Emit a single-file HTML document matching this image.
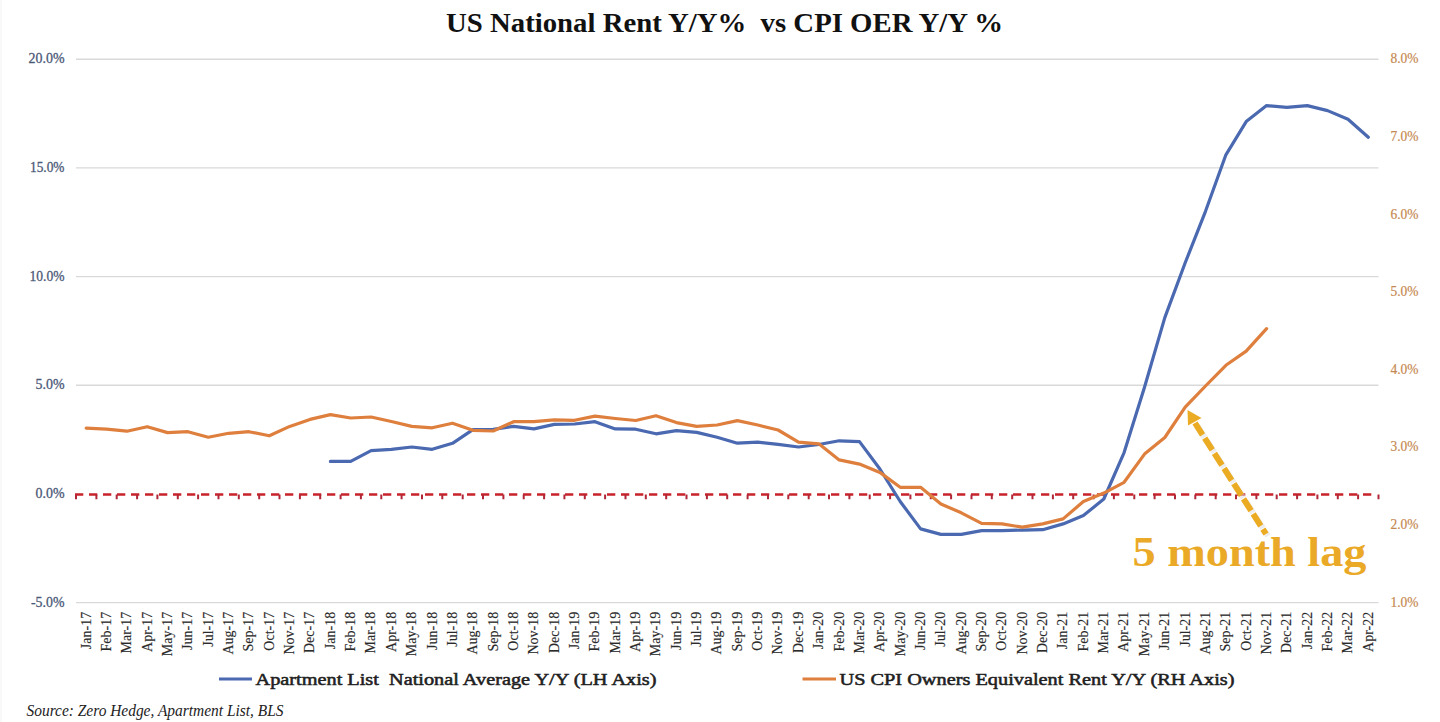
<!DOCTYPE html><html><head><meta charset="utf-8"><style>html,body{margin:0;padding:0;background:#fff;width:1440px;height:722px;overflow:hidden}svg{display:block}text{font-family:"Liberation Serif",serif}</style></head><body>
<svg width="1440" height="722" viewBox="0 0 1440 722">
<rect width="1440" height="722" fill="#fff"/>
<line x1="1" y1="0" x2="1" y2="722" stroke="#f3f3f3" stroke-width="1"/>
<text x="446" y="32.3" font-size="27.5" font-weight="bold" fill="#111" textLength="557" lengthAdjust="spacingAndGlyphs" style="white-space:pre" xml:space="preserve">US National Rent Y/Y%  vs CPI OER Y/Y %</text>
<line x1="76.0" y1="59.2" x2="1378.5" y2="59.2" stroke="#d9d9d9" stroke-width="1.4"/>
<line x1="76.0" y1="167.9" x2="1378.5" y2="167.9" stroke="#d9d9d9" stroke-width="1.4"/>
<line x1="76.0" y1="276.6" x2="1378.5" y2="276.6" stroke="#d9d9d9" stroke-width="1.4"/>
<line x1="76.0" y1="385.2" x2="1378.5" y2="385.2" stroke="#d9d9d9" stroke-width="1.4"/>
<line x1="76.0" y1="602.6" x2="1378.5" y2="602.6" stroke="#d9d9d9" stroke-width="1.4"/>
<text x="64.5" y="63.4" font-size="14.5" fill="#4a5877" stroke="#4a5877" stroke-width="0.3" text-anchor="end" textLength="36" lengthAdjust="spacingAndGlyphs">20.0%</text>
<text x="64.5" y="172.1" font-size="14.5" fill="#4a5877" stroke="#4a5877" stroke-width="0.3" text-anchor="end" textLength="34.5" lengthAdjust="spacingAndGlyphs">15.0%</text>
<text x="64.5" y="280.8" font-size="14.5" fill="#4a5877" stroke="#4a5877" stroke-width="0.3" text-anchor="end" textLength="35" lengthAdjust="spacingAndGlyphs">10.0%</text>
<text x="64.5" y="389.4" font-size="14.5" fill="#4a5877" stroke="#4a5877" stroke-width="0.3" text-anchor="end" textLength="29" lengthAdjust="spacingAndGlyphs">5.0%</text>
<text x="64.5" y="498.1" font-size="14.5" fill="#4a5877" stroke="#4a5877" stroke-width="0.3" text-anchor="end" textLength="29" lengthAdjust="spacingAndGlyphs">0.0%</text>
<text x="64.5" y="606.8" font-size="14.5" fill="#4a5877" stroke="#4a5877" stroke-width="0.3" text-anchor="end" textLength="33.5" lengthAdjust="spacingAndGlyphs">-5.0%</text>
<text x="1390.5" y="606.6" font-size="14.5" fill="#c58850" stroke="#c58850" stroke-width="0.2" textLength="28" lengthAdjust="spacingAndGlyphs">1.0%</text>
<text x="1390.5" y="529.0" font-size="14.5" fill="#c58850" stroke="#c58850" stroke-width="0.2" textLength="28" lengthAdjust="spacingAndGlyphs">2.0%</text>
<text x="1390.5" y="451.3" font-size="14.5" fill="#c58850" stroke="#c58850" stroke-width="0.2" textLength="28" lengthAdjust="spacingAndGlyphs">3.0%</text>
<text x="1390.5" y="373.7" font-size="14.5" fill="#c58850" stroke="#c58850" stroke-width="0.2" textLength="28" lengthAdjust="spacingAndGlyphs">4.0%</text>
<text x="1390.5" y="296.1" font-size="14.5" fill="#c58850" stroke="#c58850" stroke-width="0.2" textLength="28" lengthAdjust="spacingAndGlyphs">5.0%</text>
<text x="1390.5" y="218.5" font-size="14.5" fill="#c58850" stroke="#c58850" stroke-width="0.2" textLength="28" lengthAdjust="spacingAndGlyphs">6.0%</text>
<text x="1390.5" y="140.8" font-size="14.5" fill="#c58850" stroke="#c58850" stroke-width="0.2" textLength="28" lengthAdjust="spacingAndGlyphs">7.0%</text>
<text x="1390.5" y="63.2" font-size="14.5" fill="#c58850" stroke="#c58850" stroke-width="0.2" textLength="28" lengthAdjust="spacingAndGlyphs">8.0%</text>
<line x1="75" y1="494.5" x2="1374" y2="494.5" stroke="#c8222b" stroke-width="2.6" stroke-dasharray="8.3 5.7"/>
<path d="M76.0 494.5V499.2M96.4 494.5V499.2M116.7 494.5V499.2M137.1 494.5V499.2M157.4 494.5V499.2M177.8 494.5V499.2M198.1 494.5V499.2M218.5 494.5V499.2M238.8 494.5V499.2M259.2 494.5V499.2M279.5 494.5V499.2M299.9 494.5V499.2M320.2 494.5V499.2M340.6 494.5V499.2M360.9 494.5V499.2M381.3 494.5V499.2M401.6 494.5V499.2M422.0 494.5V499.2M442.3 494.5V499.2M462.7 494.5V499.2M483.0 494.5V499.2M503.4 494.5V499.2M523.7 494.5V499.2M544.1 494.5V499.2M564.4 494.5V499.2M584.8 494.5V499.2M605.1 494.5V499.2M625.5 494.5V499.2M645.8 494.5V499.2M666.2 494.5V499.2M686.5 494.5V499.2M706.9 494.5V499.2M727.2 494.5V499.2M747.6 494.5V499.2M768.0 494.5V499.2M788.3 494.5V499.2M808.7 494.5V499.2M829.0 494.5V499.2M849.4 494.5V499.2M869.7 494.5V499.2M890.1 494.5V499.2M910.4 494.5V499.2M930.8 494.5V499.2M951.1 494.5V499.2M971.5 494.5V499.2M991.8 494.5V499.2M1012.2 494.5V499.2M1032.5 494.5V499.2M1052.9 494.5V499.2M1073.2 494.5V499.2M1093.6 494.5V499.2M1113.9 494.5V499.2M1134.3 494.5V499.2M1154.6 494.5V499.2M1175.0 494.5V499.2M1195.3 494.5V499.2M1215.7 494.5V499.2M1236.0 494.5V499.2M1256.4 494.5V499.2M1276.7 494.5V499.2M1297.1 494.5V499.2M1317.4 494.5V499.2M1337.8 494.5V499.2M1358.1 494.5V499.2M1378.5 494.5V499.2" stroke="#b02838" stroke-width="2"/>
<text transform="translate(90.5,611.8) rotate(-90)" font-size="14" fill="#2a2a2a" stroke="#2a2a2a" stroke-width="0.15" text-anchor="end">Jan-17</text>
<text transform="translate(110.8,611.8) rotate(-90)" font-size="14" fill="#2a2a2a" stroke="#2a2a2a" stroke-width="0.15" text-anchor="end">Feb-17</text>
<text transform="translate(131.2,611.8) rotate(-90)" font-size="14" fill="#2a2a2a" stroke="#2a2a2a" stroke-width="0.15" text-anchor="end">Mar-17</text>
<text transform="translate(151.5,611.8) rotate(-90)" font-size="14" fill="#2a2a2a" stroke="#2a2a2a" stroke-width="0.15" text-anchor="end">Apr-17</text>
<text transform="translate(171.9,611.8) rotate(-90)" font-size="14" fill="#2a2a2a" stroke="#2a2a2a" stroke-width="0.15" text-anchor="end">May-17</text>
<text transform="translate(192.2,611.8) rotate(-90)" font-size="14" fill="#2a2a2a" stroke="#2a2a2a" stroke-width="0.15" text-anchor="end">Jun-17</text>
<text transform="translate(212.6,611.8) rotate(-90)" font-size="14" fill="#2a2a2a" stroke="#2a2a2a" stroke-width="0.15" text-anchor="end">Jul-17</text>
<text transform="translate(232.9,611.8) rotate(-90)" font-size="14" fill="#2a2a2a" stroke="#2a2a2a" stroke-width="0.15" text-anchor="end">Aug-17</text>
<text transform="translate(253.3,611.8) rotate(-90)" font-size="14" fill="#2a2a2a" stroke="#2a2a2a" stroke-width="0.15" text-anchor="end">Sep-17</text>
<text transform="translate(273.6,611.8) rotate(-90)" font-size="14" fill="#2a2a2a" stroke="#2a2a2a" stroke-width="0.15" text-anchor="end">Oct-17</text>
<text transform="translate(294.0,611.8) rotate(-90)" font-size="14" fill="#2a2a2a" stroke="#2a2a2a" stroke-width="0.15" text-anchor="end">Nov-17</text>
<text transform="translate(314.3,611.8) rotate(-90)" font-size="14" fill="#2a2a2a" stroke="#2a2a2a" stroke-width="0.15" text-anchor="end">Dec-17</text>
<text transform="translate(334.7,611.8) rotate(-90)" font-size="14" fill="#2a2a2a" stroke="#2a2a2a" stroke-width="0.15" text-anchor="end">Jan-18</text>
<text transform="translate(355.0,611.8) rotate(-90)" font-size="14" fill="#2a2a2a" stroke="#2a2a2a" stroke-width="0.15" text-anchor="end">Feb-18</text>
<text transform="translate(375.4,611.8) rotate(-90)" font-size="14" fill="#2a2a2a" stroke="#2a2a2a" stroke-width="0.15" text-anchor="end">Mar-18</text>
<text transform="translate(395.7,611.8) rotate(-90)" font-size="14" fill="#2a2a2a" stroke="#2a2a2a" stroke-width="0.15" text-anchor="end">Apr-18</text>
<text transform="translate(416.1,611.8) rotate(-90)" font-size="14" fill="#2a2a2a" stroke="#2a2a2a" stroke-width="0.15" text-anchor="end">May-18</text>
<text transform="translate(436.5,611.8) rotate(-90)" font-size="14" fill="#2a2a2a" stroke="#2a2a2a" stroke-width="0.15" text-anchor="end">Jun-18</text>
<text transform="translate(456.8,611.8) rotate(-90)" font-size="14" fill="#2a2a2a" stroke="#2a2a2a" stroke-width="0.15" text-anchor="end">Jul-18</text>
<text transform="translate(477.2,611.8) rotate(-90)" font-size="14" fill="#2a2a2a" stroke="#2a2a2a" stroke-width="0.15" text-anchor="end">Aug-18</text>
<text transform="translate(497.5,611.8) rotate(-90)" font-size="14" fill="#2a2a2a" stroke="#2a2a2a" stroke-width="0.15" text-anchor="end">Sep-18</text>
<text transform="translate(517.9,611.8) rotate(-90)" font-size="14" fill="#2a2a2a" stroke="#2a2a2a" stroke-width="0.15" text-anchor="end">Oct-18</text>
<text transform="translate(538.2,611.8) rotate(-90)" font-size="14" fill="#2a2a2a" stroke="#2a2a2a" stroke-width="0.15" text-anchor="end">Nov-18</text>
<text transform="translate(558.6,611.8) rotate(-90)" font-size="14" fill="#2a2a2a" stroke="#2a2a2a" stroke-width="0.15" text-anchor="end">Dec-18</text>
<text transform="translate(578.9,611.8) rotate(-90)" font-size="14" fill="#2a2a2a" stroke="#2a2a2a" stroke-width="0.15" text-anchor="end">Jan-19</text>
<text transform="translate(599.3,611.8) rotate(-90)" font-size="14" fill="#2a2a2a" stroke="#2a2a2a" stroke-width="0.15" text-anchor="end">Feb-19</text>
<text transform="translate(619.6,611.8) rotate(-90)" font-size="14" fill="#2a2a2a" stroke="#2a2a2a" stroke-width="0.15" text-anchor="end">Mar-19</text>
<text transform="translate(640.0,611.8) rotate(-90)" font-size="14" fill="#2a2a2a" stroke="#2a2a2a" stroke-width="0.15" text-anchor="end">Apr-19</text>
<text transform="translate(660.3,611.8) rotate(-90)" font-size="14" fill="#2a2a2a" stroke="#2a2a2a" stroke-width="0.15" text-anchor="end">May-19</text>
<text transform="translate(680.7,611.8) rotate(-90)" font-size="14" fill="#2a2a2a" stroke="#2a2a2a" stroke-width="0.15" text-anchor="end">Jun-19</text>
<text transform="translate(701.0,611.8) rotate(-90)" font-size="14" fill="#2a2a2a" stroke="#2a2a2a" stroke-width="0.15" text-anchor="end">Jul-19</text>
<text transform="translate(721.4,611.8) rotate(-90)" font-size="14" fill="#2a2a2a" stroke="#2a2a2a" stroke-width="0.15" text-anchor="end">Aug-19</text>
<text transform="translate(741.7,611.8) rotate(-90)" font-size="14" fill="#2a2a2a" stroke="#2a2a2a" stroke-width="0.15" text-anchor="end">Sep-19</text>
<text transform="translate(762.1,611.8) rotate(-90)" font-size="14" fill="#2a2a2a" stroke="#2a2a2a" stroke-width="0.15" text-anchor="end">Oct-19</text>
<text transform="translate(782.4,611.8) rotate(-90)" font-size="14" fill="#2a2a2a" stroke="#2a2a2a" stroke-width="0.15" text-anchor="end">Nov-19</text>
<text transform="translate(802.8,611.8) rotate(-90)" font-size="14" fill="#2a2a2a" stroke="#2a2a2a" stroke-width="0.15" text-anchor="end">Dec-19</text>
<text transform="translate(823.1,611.8) rotate(-90)" font-size="14" fill="#2a2a2a" stroke="#2a2a2a" stroke-width="0.15" text-anchor="end">Jan-20</text>
<text transform="translate(843.5,611.8) rotate(-90)" font-size="14" fill="#2a2a2a" stroke="#2a2a2a" stroke-width="0.15" text-anchor="end">Feb-20</text>
<text transform="translate(863.8,611.8) rotate(-90)" font-size="14" fill="#2a2a2a" stroke="#2a2a2a" stroke-width="0.15" text-anchor="end">Mar-20</text>
<text transform="translate(884.2,611.8) rotate(-90)" font-size="14" fill="#2a2a2a" stroke="#2a2a2a" stroke-width="0.15" text-anchor="end">Apr-20</text>
<text transform="translate(904.5,611.8) rotate(-90)" font-size="14" fill="#2a2a2a" stroke="#2a2a2a" stroke-width="0.15" text-anchor="end">May-20</text>
<text transform="translate(924.9,611.8) rotate(-90)" font-size="14" fill="#2a2a2a" stroke="#2a2a2a" stroke-width="0.15" text-anchor="end">Jun-20</text>
<text transform="translate(945.2,611.8) rotate(-90)" font-size="14" fill="#2a2a2a" stroke="#2a2a2a" stroke-width="0.15" text-anchor="end">Jul-20</text>
<text transform="translate(965.6,611.8) rotate(-90)" font-size="14" fill="#2a2a2a" stroke="#2a2a2a" stroke-width="0.15" text-anchor="end">Aug-20</text>
<text transform="translate(985.9,611.8) rotate(-90)" font-size="14" fill="#2a2a2a" stroke="#2a2a2a" stroke-width="0.15" text-anchor="end">Sep-20</text>
<text transform="translate(1006.3,611.8) rotate(-90)" font-size="14" fill="#2a2a2a" stroke="#2a2a2a" stroke-width="0.15" text-anchor="end">Oct-20</text>
<text transform="translate(1026.6,611.8) rotate(-90)" font-size="14" fill="#2a2a2a" stroke="#2a2a2a" stroke-width="0.15" text-anchor="end">Nov-20</text>
<text transform="translate(1047.0,611.8) rotate(-90)" font-size="14" fill="#2a2a2a" stroke="#2a2a2a" stroke-width="0.15" text-anchor="end">Dec-20</text>
<text transform="translate(1067.4,611.8) rotate(-90)" font-size="14" fill="#2a2a2a" stroke="#2a2a2a" stroke-width="0.15" text-anchor="end">Jan-21</text>
<text transform="translate(1087.7,611.8) rotate(-90)" font-size="14" fill="#2a2a2a" stroke="#2a2a2a" stroke-width="0.15" text-anchor="end">Feb-21</text>
<text transform="translate(1108.1,611.8) rotate(-90)" font-size="14" fill="#2a2a2a" stroke="#2a2a2a" stroke-width="0.15" text-anchor="end">Mar-21</text>
<text transform="translate(1128.4,611.8) rotate(-90)" font-size="14" fill="#2a2a2a" stroke="#2a2a2a" stroke-width="0.15" text-anchor="end">Apr-21</text>
<text transform="translate(1148.8,611.8) rotate(-90)" font-size="14" fill="#2a2a2a" stroke="#2a2a2a" stroke-width="0.15" text-anchor="end">May-21</text>
<text transform="translate(1169.1,611.8) rotate(-90)" font-size="14" fill="#2a2a2a" stroke="#2a2a2a" stroke-width="0.15" text-anchor="end">Jun-21</text>
<text transform="translate(1189.5,611.8) rotate(-90)" font-size="14" fill="#2a2a2a" stroke="#2a2a2a" stroke-width="0.15" text-anchor="end">Jul-21</text>
<text transform="translate(1209.8,611.8) rotate(-90)" font-size="14" fill="#2a2a2a" stroke="#2a2a2a" stroke-width="0.15" text-anchor="end">Aug-21</text>
<text transform="translate(1230.2,611.8) rotate(-90)" font-size="14" fill="#2a2a2a" stroke="#2a2a2a" stroke-width="0.15" text-anchor="end">Sep-21</text>
<text transform="translate(1250.5,611.8) rotate(-90)" font-size="14" fill="#2a2a2a" stroke="#2a2a2a" stroke-width="0.15" text-anchor="end">Oct-21</text>
<text transform="translate(1270.9,611.8) rotate(-90)" font-size="14" fill="#2a2a2a" stroke="#2a2a2a" stroke-width="0.15" text-anchor="end">Nov-21</text>
<text transform="translate(1291.2,611.8) rotate(-90)" font-size="14" fill="#2a2a2a" stroke="#2a2a2a" stroke-width="0.15" text-anchor="end">Dec-21</text>
<text transform="translate(1311.6,611.8) rotate(-90)" font-size="14" fill="#2a2a2a" stroke="#2a2a2a" stroke-width="0.15" text-anchor="end">Jan-22</text>
<text transform="translate(1331.9,611.8) rotate(-90)" font-size="14" fill="#2a2a2a" stroke="#2a2a2a" stroke-width="0.15" text-anchor="end">Feb-22</text>
<text transform="translate(1352.3,611.8) rotate(-90)" font-size="14" fill="#2a2a2a" stroke="#2a2a2a" stroke-width="0.15" text-anchor="end">Mar-22</text>
<text transform="translate(1372.6,611.8) rotate(-90)" font-size="14" fill="#2a2a2a" stroke="#2a2a2a" stroke-width="0.15" text-anchor="end">Apr-22</text>
<polyline points="330.4,461.4 350.7,461.4 371.1,450.7 391.4,449.3 411.8,447.0 432.2,449.3 452.5,443.3 472.9,429.6 493.2,429.3 513.6,426.4 533.9,428.9 554.3,424.4 574.6,424.0 595.0,421.7 615.3,428.9 635.7,429.2 656.0,433.8 676.4,430.6 696.7,432.4 717.1,437.2 737.4,443.2 757.8,442.1 778.1,444.4 798.5,447.0 818.8,444.5 839.2,440.8 859.5,441.6 879.9,469.0 900.2,501.5 920.6,528.9 940.9,534.4 961.3,534.4 981.6,530.6 1002.0,530.6 1022.3,530.1 1042.7,529.7 1063.1,523.9 1083.4,515.6 1103.8,499.0 1124.1,452.6 1144.5,387.3 1164.8,317.6 1185.2,262.8 1205.5,211.3 1225.9,154.8 1246.2,121.6 1266.6,105.6 1286.9,107.3 1307.3,105.6 1327.6,110.6 1348.0,119.2 1368.3,137.2" fill="none" stroke="#4a69b0" stroke-width="3.2" stroke-linejoin="round" stroke-linecap="round"/>
<polyline points="86.2,428.2 106.5,429.2 126.9,431.2 147.2,426.7 167.6,432.6 187.9,431.7 208.3,437.2 228.6,433.3 249.0,431.7 269.3,435.8 289.7,426.4 310.0,419.4 330.4,414.6 350.7,418.0 371.1,417.0 391.4,421.5 411.8,426.4 432.2,427.8 452.5,423.2 472.9,430.3 493.2,431.0 513.6,421.7 533.9,421.7 554.3,419.9 574.6,420.3 595.0,416.1 615.3,418.5 635.7,420.5 656.0,415.7 676.4,422.6 696.7,426.4 717.1,425.0 737.4,420.6 757.8,425.0 778.1,430.0 798.5,442.1 818.8,443.8 839.2,459.9 859.5,464.1 879.9,472.4 900.2,487.3 920.6,487.3 940.9,504.0 961.3,512.8 981.6,523.3 1002.0,523.9 1022.3,527.2 1042.7,523.9 1063.1,518.9 1083.4,501.5 1103.8,493.1 1124.1,482.3 1144.5,454.1 1164.8,437.5 1185.2,407.2 1205.5,386.0 1225.9,365.3 1246.2,351.1 1266.6,328.7" fill="none" stroke="#de7f3d" stroke-width="3.2" stroke-linejoin="round" stroke-linecap="round"/>
<line x1="1197" y1="425.5" x2="1268" y2="536" stroke="#dcdcdc" stroke-width="6" stroke-dasharray="14 4" opacity="0.5"/>
<line x1="1195" y1="423" x2="1266" y2="534" stroke="#ebac24" stroke-width="6" stroke-dasharray="14 4"/>
<polygon points="1187.5,410 1201.5,418 1188,425.5" fill="#ebac24"/>
<text x="1132.5" y="565.5" font-size="43" font-weight="bold" fill="#eaa927" textLength="234" lengthAdjust="spacingAndGlyphs">5 month lag</text>
<line x1="219" y1="679" x2="252" y2="679" stroke="#4a69b0" stroke-width="3"/>
<text x="255.5" y="684.6" font-size="17" font-weight="normal" fill="#1f1f1f" stroke="#1f1f1f" stroke-width="0.55" textLength="401" lengthAdjust="spacingAndGlyphs" xml:space="preserve">Apartment List  National Average Y/Y (LH Axis)</text>
<line x1="802.5" y1="679" x2="836" y2="679" stroke="#de7f3d" stroke-width="3"/>
<text x="839.5" y="684.6" font-size="17" font-weight="normal" fill="#1f1f1f" stroke="#1f1f1f" stroke-width="0.55" textLength="395" lengthAdjust="spacingAndGlyphs">US CPI Owners Equivalent Rent Y/Y (RH Axis)</text>
<text x="26.5" y="716" font-size="16.5" font-style="italic" fill="#222" textLength="257" lengthAdjust="spacingAndGlyphs">Source: Zero Hedge, Apartment List, BLS</text>
</svg></body></html>
